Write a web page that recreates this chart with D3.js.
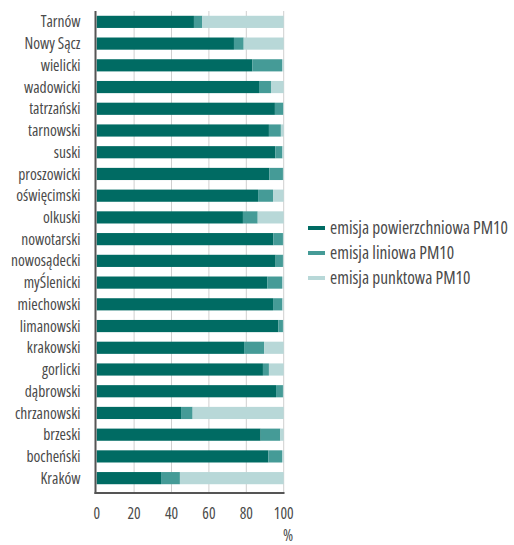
<!DOCTYPE html>
<html><head><meta charset="utf-8">
<script src="https://cdn.jsdelivr.net/npm/d3@7"></script>
<style>body{margin:0;background:#fff}svg{display:block}text{font-family:"Open Sans",sans-serif;font-stretch:86%;fill:#4a4a4a}</style>
</head><body><svg id="c" width="514" height="545"></svg>
<script>
const categories = ["Tarnów","Nowy Sącz","wielicki","wadowicki","tatrzański","tarnowski","suski","proszowicki","oświęcimski","olkuski","nowotarski","nowosądecki","myŚlenicki","miechowski","limanowski","krakowski","gorlicki","dąbrowski","chrzanowski","brzeski","bocheński","Kraków"];
const powierzchniowa = [52,73.4,83.2,86.8,95.3,92.1,95.5,92.3,86.3,78.2,94.5,95.7,91.2,94.3,97.1,78.8,88.9,95.9,45.1,87.7,91.8,34.4];
const liniowa = [4.5,5.2,15.9,6.4,4.4,6.4,3.8,7.3,8.0,7.9,5.1,3.9,7.9,5.0,2.5,10.7,3.2,3.7,6.2,10.5,7.3,10.1];
const punktowa = [43.5,21.4,0.9,6.8,0.3,1.5,0.7,0.4,5.7,13.9,0.4,0.4,0.9,0.7,0.4,10.5,7.9,0.4,48.7,1.8,0.9,55.5];
const seriesNames = ["emisja powierzchniowa PM10","emisja liniowa PM10","emisja punktowa PM10"];
const colors = ["#006b63","#459b97","#b8d8d8"];
const xTicks = [0,20,40,60,80,100];

const svg = d3.select("#c");
const x = d3.scaleLinear().domain([0,100]).range([96.7,283.7]);
const y = d3.scaleBand().domain(categories).range([11,489]).paddingInner(0.44).paddingOuter(0.22);
const plotTop = 11, plotBottom = 493;

// grid
svg.append("g").selectAll("line").data(xTicks.slice(1)).join("line")
  .attr("x1",d=>x(d)).attr("x2",d=>x(d)).attr("y1",plotTop).attr("y2",plotBottom)
  .attr("stroke","#cfcfcf").attr("stroke-width",1);

const rows = categories.map((c,i)=>({c, v:[powierzchniowa[i],liniowa[i],punktowa[i]]}));
const stack = d3.stack().keys([0,1,2]).value((d,k)=>d.v[k]);
const stacked = stack(rows);
svg.append("g").selectAll("g").data(stacked).join("g").attr("fill",(d,i)=>colors[i])
  .selectAll("rect").data(d=>d).join("rect")
  .attr("x",d=>x(d[0])).attr("width",d=>Math.max(0,x(d[1])-x(d[0])))
  .attr("y",d=>y(d.data.c)).attr("height",y.bandwidth());

// axes lines
svg.append("line").attr("x1",95.5).attr("x2",95.5).attr("y1",plotTop).attr("y2",plotBottom+1)
  .attr("stroke","#555").attr("stroke-width",2);
svg.append("line").attr("x1",94.5).attr("x2",284.5).attr("y1",plotBottom).attr("y2",plotBottom)
  .attr("stroke","#555").attr("stroke-width",2);

// category labels
svg.append("g").selectAll("text").data(categories).join("text")
  .attr("x",80.5).attr("y",d=>y(d)+y.bandwidth()/2).attr("dy","0.36em")
  .attr("text-anchor","end").attr("font-size",15.5).text(d=>d);

// x tick labels
svg.append("g").selectAll("text").data(xTicks).join("text")
  .attr("x",d=>x(d)).attr("y",519).attr("text-anchor","middle").attr("font-size",15.5).text(d=>d);
svg.append("text").attr("x",288).attr("y",541).attr("text-anchor","middle").attr("font-size",15.5).text("%");

// legend
const lg = svg.append("g").selectAll("g").data(seriesNames).join("g")
  .attr("transform",(d,i)=>`translate(308,${228+i*25})`);
lg.append("rect").attr("x",0).attr("y",-2).attr("width",17).attr("height",4).attr("fill",(d,i)=>colors[i]);
lg.append("text").attr("x",22).attr("dy","0.36em").attr("font-size",17.4).text(d=>d);
</script></body></html>
